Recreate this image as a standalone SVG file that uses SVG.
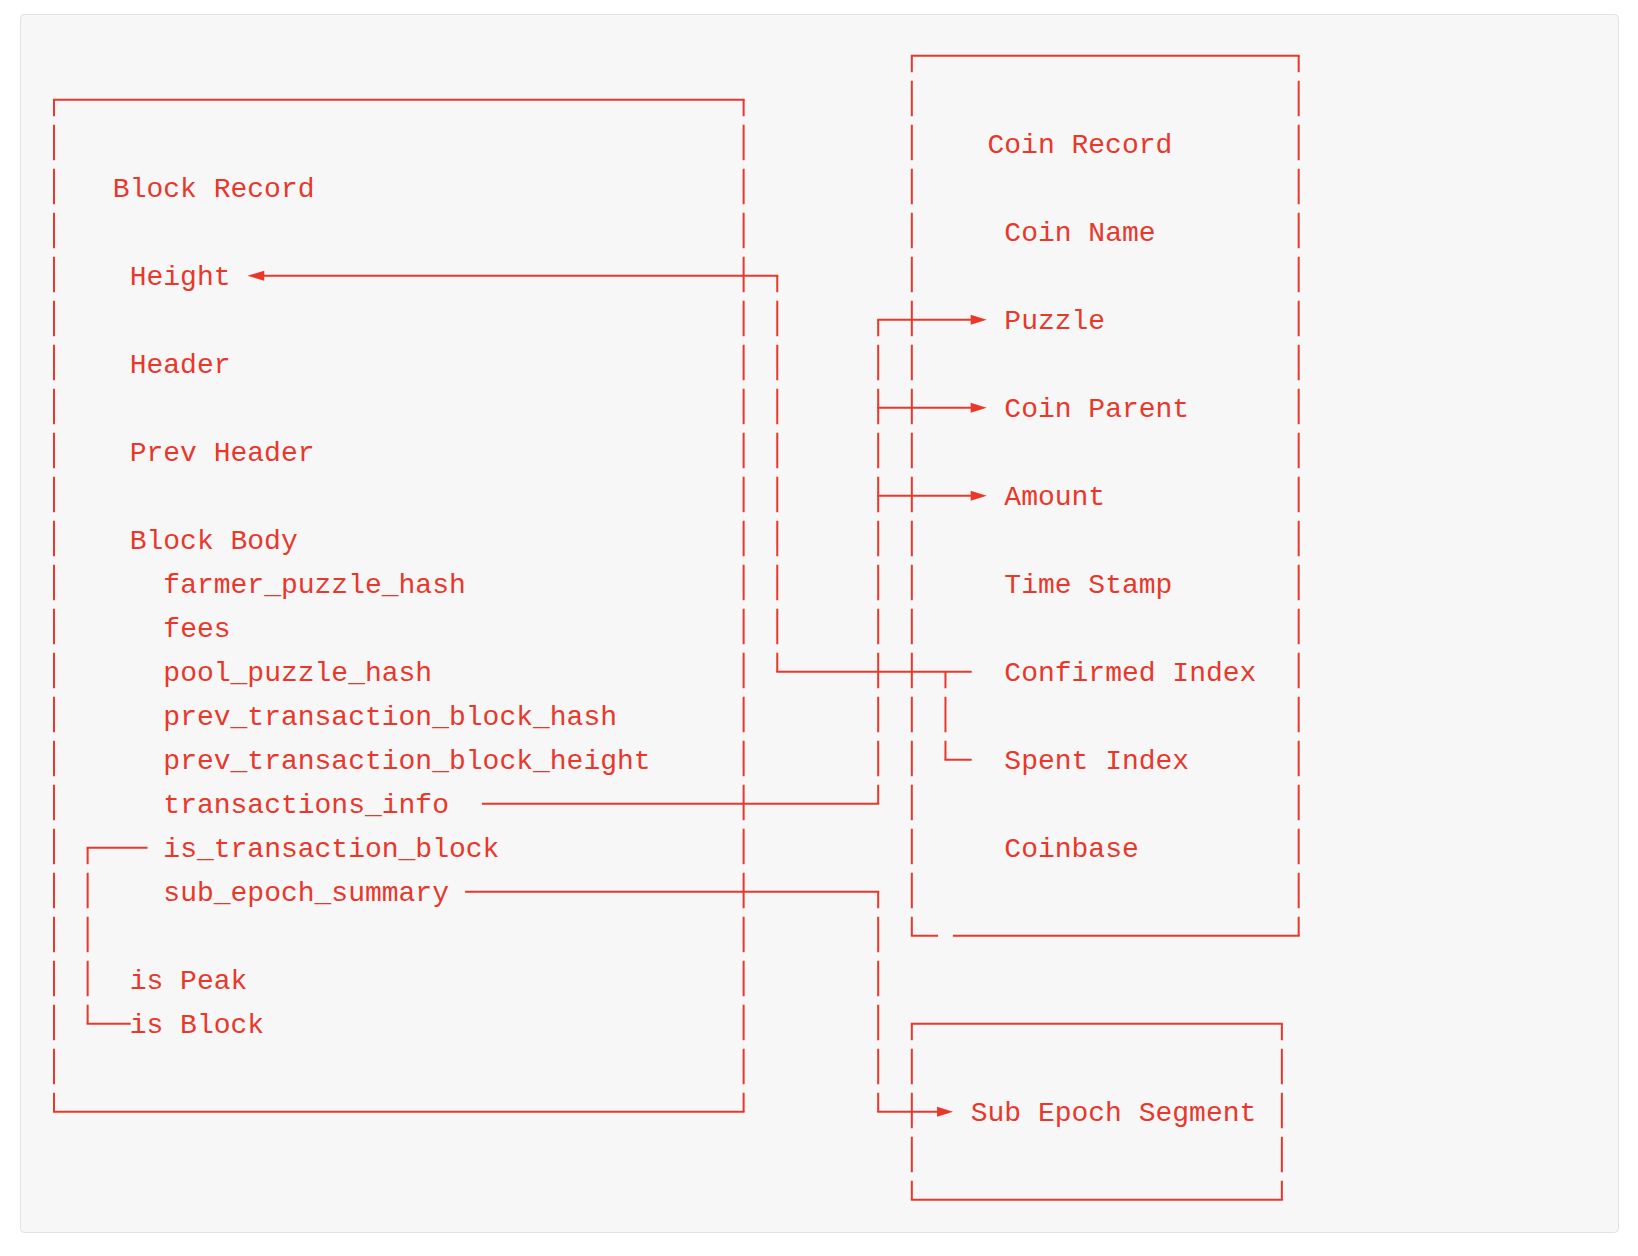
<svg xmlns="http://www.w3.org/2000/svg" width="1638" height="1256" viewBox="0 0 1638 1256">
  <!-- Character grid: column c at x = 54 + 16.82*c, row r at y = 55.7 + 44*r -->
  <style>
    .t { font-family: "Liberation Mono", "DejaVu Sans Mono", monospace; font-size: 28px; fill: #e8382c; }
    .h { fill: none; stroke: #e8382c; stroke-width: 2; stroke-linecap: square; }
    .v { fill: none; stroke: #e8382c; stroke-width: 2; stroke-dasharray: 35.6 8.4; stroke-dashoffset: 19; }
    .ah { fill: #e8382c; stroke: none; }
  </style>
  <defs>
    <!-- arrowheads drawn in a 16-wide cell, base at x=0 -->
    <polygon id="arrow-right" points="0,-5 16,0 0,5"/>
    <polygon id="arrow-left" points="0,-5 -16.8,0 0,5"/>
  </defs>

  <rect x="20.5" y="14.5" width="1598" height="1218" rx="4" ry="4" fill="#f7f7f7" stroke="#e2e2e2" stroke-width="1"/>

  <!-- Block Record -->
  <g id="block-record">
    <path class="h" d="M54 99.7 H743.62 M54 1111.7 H743.62"/>
    <path class="v" d="M54 99.7 V1111.7 M743.62 99.7 V1111.7"/>
    <text class="t" x="112.87" y="196.7">Block Record</text>
    <text class="t" x="129.69" y="284.7">Height</text>
    <text class="t" x="129.69" y="372.7">Header</text>
    <text class="t" x="129.69" y="460.7">Prev Header</text>
    <text class="t" x="129.69" y="548.7">Block Body</text>
    <text class="t" x="163.33" y="592.7">farmer_puzzle_hash</text>
    <text class="t" x="163.33" y="636.7">fees</text>
    <text class="t" x="163.33" y="680.7">pool_puzzle_hash</text>
    <text class="t" x="163.33" y="724.7">prev_transaction_block_hash</text>
    <text class="t" x="163.33" y="768.7">prev_transaction_block_height</text>
    <text class="t" x="163.33" y="812.7">transactions_info</text>
    <text class="t" x="163.33" y="856.7">is_transaction_block</text>
    <text class="t" x="163.33" y="900.7">sub_epoch_summary</text>
    <text class="t" x="129.69" y="988.7">is Peak</text>
    <text class="t" x="129.69" y="1032.7">is Block</text>
  </g>

  <!-- Coin Record -->
  <g id="coin-record">
    <path class="h" d="M911.82 55.7 H1298.68 M911.82 935.7 H937.05 M953.87 935.7 H1298.68"/>
    <path class="v" d="M911.82 55.7 V935.7 M1298.68 55.7 V935.7"/>
    <text class="t" x="987.51" y="152.7">Coin Record</text>
    <text class="t" x="1004.33" y="240.7">Coin Name</text>
    <text class="t" x="1004.33" y="328.7">Puzzle</text>
    <text class="t" x="1004.33" y="416.7">Coin Parent</text>
    <text class="t" x="1004.33" y="504.7">Amount</text>
    <text class="t" x="1004.33" y="592.7">Time Stamp</text>
    <text class="t" x="1004.33" y="680.7">Confirmed Index</text>
    <text class="t" x="1004.33" y="768.7">Spent Index</text>
    <text class="t" x="1004.33" y="856.7">Coinbase</text>
  </g>

  <!-- Sub Epoch Segment -->
  <g id="sub-epoch-segment">
    <path class="h" d="M911.82 1023.7 H1281.86 M911.82 1199.7 H1281.86"/>
    <path class="v" d="M911.82 1023.7 V1199.7 M1281.86 1023.7 V1199.7"/>
    <text class="t" x="970.69" y="1120.7">Sub Epoch Segment</text>
  </g>

  <g id="connectors">
    <!-- Confirmed Index / Spent Index back to Height -->
    <g id="conn-height">
      <path class="h" d="M264.25 275.7 H777.26 M777.26 671.7 H970.69 M945.46 759.7 H970.69"/>
      <path class="v" d="M777.26 275.7 V671.7 M945.46 671.7 V759.7"/>
      <use href="#arrow-left" class="ah" x="264.25" y="275.7"/>
    </g>
    <!-- transactions_info fans out to Puzzle, Coin Parent, Amount -->
    <g id="conn-transactions">
      <path class="h" d="M482.91 803.7 H878.18 M878.18 319.7 H970.69 M878.18 407.7 H970.69 M878.18 495.7 H970.69"/>
      <path class="v" d="M878.18 319.7 V803.7"/>
      <use href="#arrow-right" class="ah" x="970.69" y="319.7"/>
      <use href="#arrow-right" class="ah" x="970.69" y="407.7"/>
      <use href="#arrow-right" class="ah" x="970.69" y="495.7"/>
    </g>
    <!-- sub_epoch_summary to Sub Epoch Segment -->
    <g id="conn-sub-epoch">
      <path class="h" d="M466.09 891.7 H878.18 M878.18 1111.7 H937.05"/>
      <path class="v" d="M878.18 891.7 V1111.7"/>
      <use href="#arrow-right" class="ah" x="937.05" y="1111.7"/>
    </g>
    <!-- is_transaction_block bracket to is Block -->
    <g id="conn-is-block">
      <path class="h" d="M87.64 847.7 H146.51 M87.64 1023.7 H129.69"/>
      <path class="v" d="M87.64 847.7 V1023.7"/>
    </g>
  </g>
</svg>
